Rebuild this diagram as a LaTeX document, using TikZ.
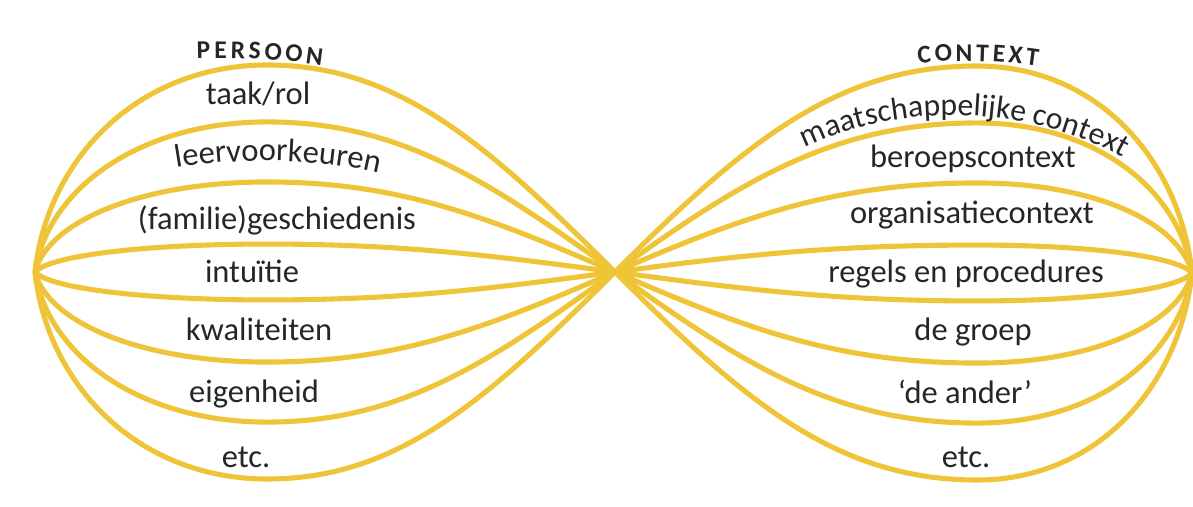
\documentclass[tikz,border=0pt]{standalone}
\usepackage{fontspec}
\setmainfont{Carlito}
\usepackage{tikz}
\usetikzlibrary{calc,decorations.text}
\definecolor{lobeyellow}{RGB}{240,196,56}
\definecolor{ink}{RGB}{38,38,38}
\newcommand{\lobecolor}{lobeyellow}
\newcommand{\thickness}{2.9pt}
\newcommand{\labelsize}{\fontsize{18.5}{21}\selectfont}
\newcommand{\headsize}{\fontsize{14.5}{16}\selectfont\bfseries}
\tikzset{lbl/.style={text=ink, font=\labelsize, anchor=base, inner sep=0pt},
         hdr/.style={text=ink, font=\headsize, anchor=base, inner sep=0pt}}

\begin{document}
\begin{tikzpicture}
\useasboundingbox (0,0) rectangle (23.86,10.12);
\coordinate (1) at (0.7,4.68);
\coordinate (2) at (12.3,4.68);
\coordinate (3) at (23.84,4.66);
%lobes
\foreach \s in {1,0.725,0.435,0.135,-0.135,-0.435,-0.725,-1}{
\draw[\lobecolor] [line width = \thickness] (1) .. controls +(0.25,2.28*\s) and +(-2.56,0) .. ($(1)+(4.64,4.14*\s)$) .. controls +(2.6,0) and +(-2.6,2.6*\s) .. (2);
\draw[\lobecolor] [line width = \thickness] (3) .. controls +(-0.25,2.28*\s) and +(2.4,0) .. ($(3)+(-4.3,4.14*\s)$) .. controls +(-2.8,0) and +(2.6,2.6*\s) .. (2);
}
%headers, one letter at a time on a flat arc
\coordinate (hp) at (4.4,-5.04);
\coordinate (hc) at (19.3,-1.1);
\foreach \c/\a [count=\i] in {P/91.33,E/89.95,R/88.55,S/87.18,O/85.69,O/84.0,N/82.33}
  \node[hdr, rotate=\a-90] (hp\i) at ($(hp)+(\a:14)$) {\c};
\foreach \c/\a [count=\i] in {C/94.61,O/92.44,N/90.11,T/88.02,E/86.15,X/84.27,T/82.36}
  \node[hdr, rotate=\a-90] (hc\i) at ($(hc)+(\a:10)$) {\c};
%persoon
\node[lbl] (taak) at (5.16,8.04) {taak/rol};
\path[decorate, decoration={text along path, text align=center,
  text={|\color{ink}\labelsize|leervoorkeuren}}]
  (3.3,6.72) .. controls (4.6,6.98) and (6.4,6.98) .. (7.8,6.6);
\node[lbl] (fam) at (5.54,5.54) {(familie)geschiedenis};
\node[lbl] (intu) at (5.04,4.48) {intuïtie};
\node[lbl] (kwal) at (5.18,3.32) {kwaliteiten};
\node[lbl] (eigen) at (5.08,2.08) {eigenheid};
\node[lbl] (etcl) at (4.92,0.78) {etc.};
%context
\path[decorate, decoration={text along path, text align=center,
  text={|\color{ink}\fontsize{18}{21}\selectfont|maatschappelijke context}}]
  (15.95,7.1) .. controls (17.9,8.1) and (20.6,8.06) .. (22.6,6.9);
\node[lbl] (beroep) at (19.46,6.78) {beroepscontext};
\node[lbl] (organ) at (19.44,5.66) {organisatiecontext};
\node[lbl] (regels) at (19.32,4.48) {regels en procedures};
\node[lbl] (groep) at (19.46,3.32) {de groep};
\node[lbl] (ander) at (19.3,2.06) {‘de ander’};
\node[lbl] (etcr) at (19.32,0.78) {etc.};
\end{tikzpicture}
\end{document}
